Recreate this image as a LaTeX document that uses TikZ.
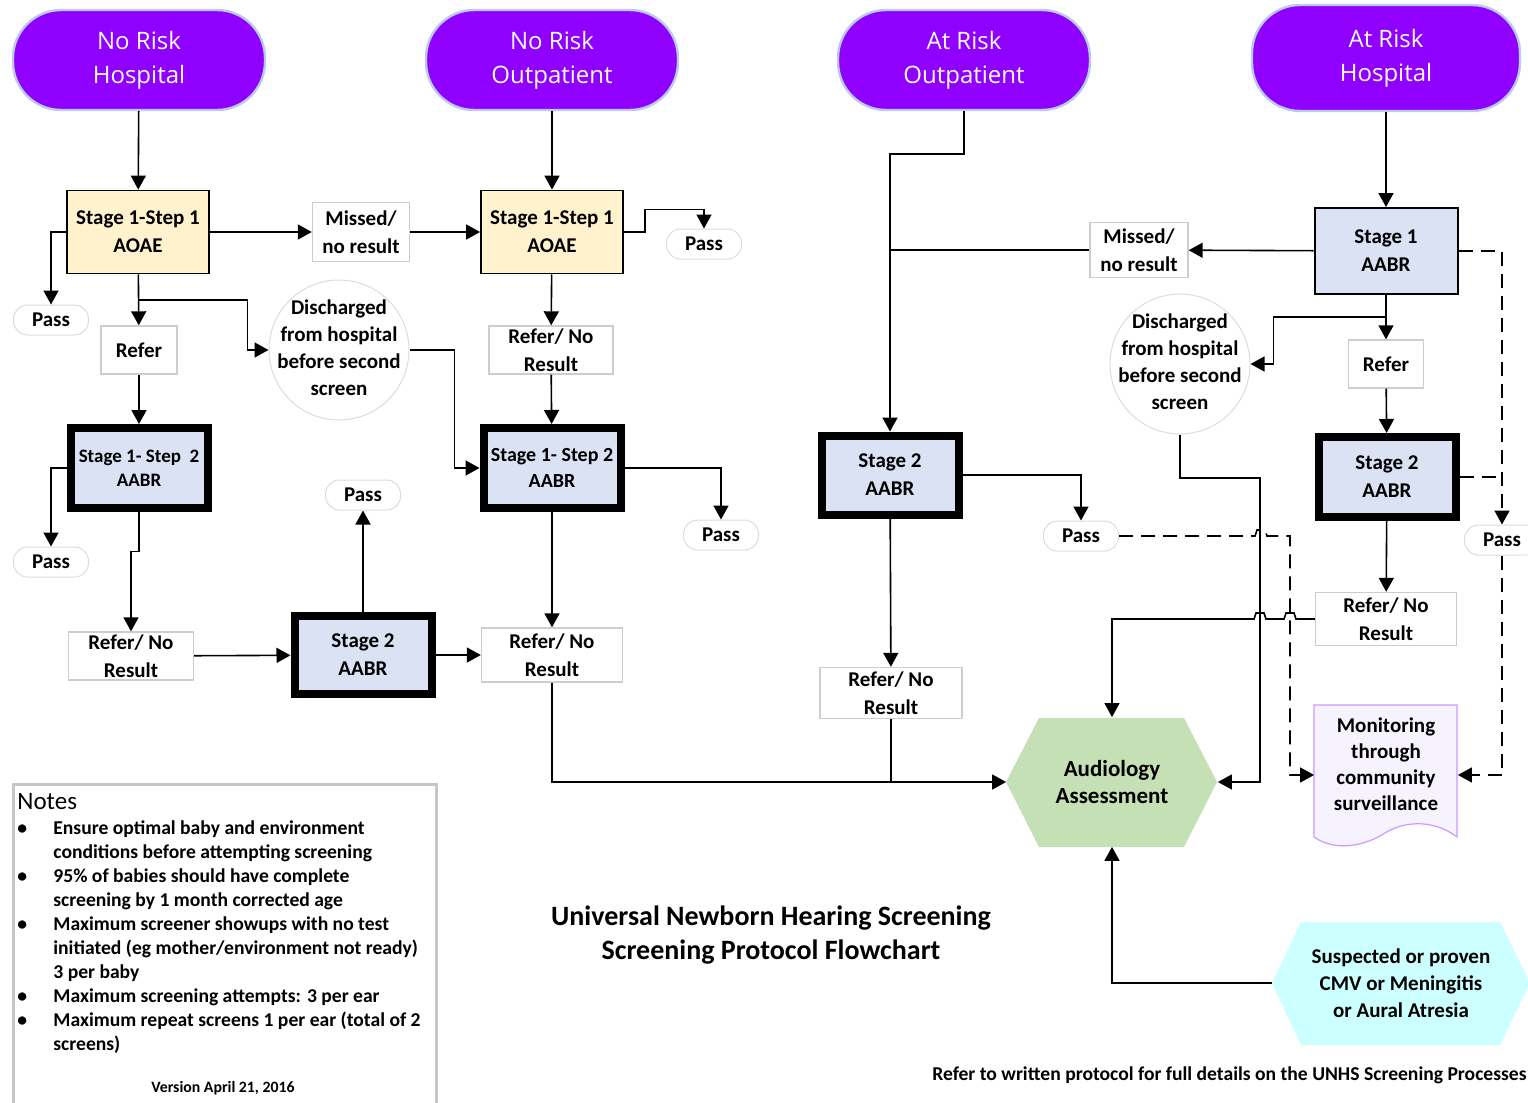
\documentclass[tikz,border=0pt]{standalone}
\usepackage{fontspec}
\setmainfont{Carlito}
\newfontfamily\termfont{Open Sans}
\usepackage{xcolor}
\usetikzlibrary{arrows.meta,calc}

\definecolor{termpurple}{RGB}{143,0,255}
\definecolor{termedge}{RGB}{185,205,235}
\definecolor{aoaefill}{RGB}{255,242,204}
\definecolor{aabrfill}{RGB}{218,226,243}
\definecolor{audfill}{RGB}{197,224,180}
\definecolor{cmvfill}{RGB}{204,255,255}
\definecolor{boxgray}{RGB}{205,205,205}
\definecolor{monline}{RGB}{204,153,255}
\definecolor{monfill}{RGB}{246,243,255}

% text that does not widen its circle
\newcommand\flattext[1]{\raisebox{-5pt}{\smash{\makebox[0pt]{\begin{tabular}{@{}c@{}}#1\end{tabular}}}}}

\begin{document}
\begin{tikzpicture}[x=0.5pt,y=-0.5pt,
  every node/.style={font=\bfseries\fontsize{10.5}{14}\selectfont, align=center, inner sep=0pt},
  term/.style={fill=termpurple, draw=termedge, line width=1.2pt, rounded corners=24pt,
    minimum width=126pt, minimum height=50pt, text=white,
    font=\termfont\fontsize{12}{17}\selectfont},
  aoae/.style={draw, fill=aoaefill, line width=0.9pt, minimum width=71pt, minimum height=41.5pt},
  stageone/.style={draw, fill=aabrfill, line width=1pt, minimum width=71.5pt, minimum height=43pt},
  stagetwo/.style={draw, fill=aabrfill, line width=4pt, minimum width=68.5pt, minimum height=40pt},
  result/.style={draw=boxgray, fill=white, line width=0.7pt},
  passpill/.style={draw=boxgray!70, fill=white, line width=0.5pt, rounded corners=7pt,
    minimum width=37.5pt, minimum height=15pt},
  disch/.style={circle, draw=boxgray!70, fill=white, line width=0.5pt, minimum size=70pt,
    font=\bfseries\fontsize{10.5}{13.5}\selectfont},
  arr/.style={line width=0.8pt, -{Triangle[length=7pt,width=7.5pt]}},
  link/.style={line width=0.8pt},
  darr/.style={arr, dash pattern=on 7pt off 4pt},
  dlink/.style={link, dash pattern=on 7pt off 4pt}]

\useasboundingbox (0,0) rectangle (1528,1103);

% start points
\node[term] (tNRH) at (139,60) {No Risk\\Hospital};
\node[term] (tNRO) at (552,60) {No Risk\\Outpatient};
\node[term] (tARO) at (964,60) {At Risk\\Outpatient};
\node[term, minimum width=134pt, minimum height=53pt] (tARH) at (1386,58) {At Risk\\Hospital};

% no risk hospital
\node[aoae] (s11a) at (138,232) {Stage 1-Step 1\\AOAE};
\node[result, minimum width=48.5pt, minimum height=29.5pt] (miss1) at (361,232) {Missed/\\no result};
\node[passpill] (pass1) at (51,320) {Pass};
\node[result, minimum width=38pt, minimum height=24pt] (ref1) at (139,350) {Refer};
\node[disch] (dis1) at (339,350) {\flattext{Discharged\\from hospital\\before second\\screen}};
\node[stagetwo, font=\bfseries\fontsize{9.5}{12}\selectfont] (s11b) at (139,468) {Stage 1- Step\ \ 2\\AABR};
\node[passpill] (pass2) at (51,562) {Pass};
\node[result, minimum width=62.5pt, minimum height=24pt] (rnr1) at (131,656) {Refer/ No\\Result};
\node[stagetwo, minimum height=39pt] (s2l) at (363,655) {Stage 2\\AABR};
\node[passpill] (pass3) at (363,495) {Pass};

% no risk outpatient
\node[aoae] (s12a) at (552,232) {Stage 1-Step 1\\AOAE};
\node[passpill] (pass4) at (704,244) {Pass};
\node[result, minimum width=62pt, minimum height=24pt] (rnr3) at (551,350) {Refer/ No\\Result};
\node[stagetwo, font=\bfseries\fontsize{10}{13}\selectfont] (s12b) at (552,468) {Stage 1- Step 2\\AABR};
\node[passpill] (pass5) at (721,535) {Pass};
\node[result, minimum width=70.5pt, minimum height=27pt] (rnr2) at (552,655) {Refer/ No\\Result};

% at risk outpatient
\node[stagetwo, minimum height=39.5pt] (s2m) at (890,475) {Stage 2\\AABR};
\node[passpill] (pass6) at (1081,536) {Pass};
\node[result, minimum width=71pt, minimum height=25.5pt] (rnr4) at (891,693) {Refer/ No\\Result};

% at risk hospital
\node[stageone] (s1r) at (1386,251) {Stage 1\\AABR};
\node[result, minimum width=49pt, minimum height=27.5pt] (miss2) at (1139,250) {Missed/\\no result};
\node[result, minimum width=37.5pt, minimum height=24pt] (ref2) at (1386,364) {Refer};
\node[disch] (dis2) at (1180,364) {\flattext{Discharged\\from hospital\\before second\\screen}};
\node[stagetwo] (s2r) at (1387,477) {Stage 2\\AABR};
\node[passpill] (pass7) at (1502,540) {Pass};
\node[result, minimum width=70.5pt, minimum height=26.5pt] (rnr5) at (1386,619) {Refer/ No\\Result};

% outcomes
\fill[audfill] (1006,782) -- (1039,718) -- (1184,718) -- (1217,782) -- (1184,847) -- (1039,847) -- cycle;
\node[minimum width=105.5pt, minimum height=64.5pt, font=\bfseries\fontsize{11.5}{13.5}\selectfont] (audio) at (1112,782) {Audiology\\Assessment};
\draw[monline, fill=monfill, line width=0.6pt] (1314,705) -- (1457,705) -- (1457,837)
  .. controls (1432,818) and (1402,822) .. (1385,833) .. controls (1365,846) and (1335,852) .. (1314,837) -- cycle;
\node[minimum width=71.5pt, minimum height=65pt, font=\bfseries\fontsize{10.5}{13}\selectfont] (mon) at (1386,764) {Monitoring\\through\\community\\surveillance};
\fill[cmvfill] (1272,983) -- (1301,922) -- (1500,922) -- (1530,983) -- (1500,1045) -- (1301,1045) -- cycle;
\node[minimum width=129pt, minimum height=61.5pt, font=\bfseries\fontsize{10.5}{13.5}\selectfont] (susp) at (1401,983) {Suspected or proven\\CMV or Meningitis\\or Aural Atresia};

% connectors, no risk hospital
\draw[arr] (tNRH) -- (s11a);
\draw[arr] (s11a.west) -| (pass1.north);
\draw[arr] (s11a) -- (miss1);
\draw[arr] (miss1) -- (s12a);
\draw[arr] (s11a) -- (ref1);
\coordinate (b1) at ($(s11a.south)!0.5!(ref1.north)$);
\draw[arr] (b1) -| ($(dis1.west)+(-21,0)$) -- (dis1.west);
\draw[arr] (ref1) -- (s11b);
\draw[arr] (s11b.west) -| (pass2.north);
\draw[arr] (s11b.south) |- ($(rnr1.north)+(0,-80)$) -- (rnr1.north);
\draw[arr] (rnr1) -- (s2l);
\draw[arr] (s2l) -- (pass3);
\draw[arr] (s2l) -- (rnr2);

% connectors, no risk outpatient
\draw[arr] (tNRO) -- (s12a);
\draw[arr] (s12a.east) -- ++(21,0) |- ($(pass4.north)+(0,-19)$) -- (pass4.north);
\draw[arr] (s12a) -- (rnr3);
\draw[arr] (rnr3) -- (s12b);
\draw[arr] (dis1.east) -| ($(s12b.west)+(-25,0)$) -- (s12b.west);
\draw[arr] (s12b.east) -| (pass5.north);
\draw[arr] (s12b) -- (rnr2);
\draw[arr] (rnr2.south) |- (audio.west);

% connectors, at risk outpatient
\draw[arr] (tARO.south) -- ++(0,43) -| (s2m.north);
\draw[link] (miss2.west) -- (miss2.west -| s2m.north);
\draw[arr] (s2m.east) -| (pass6.north);
\draw[arr] (s2m) -- (rnr4);
\draw[link] (rnr4.south) -- (rnr4.south |- audio.west);

% connectors, at risk hospital
\draw[arr] (tARH) -- (s1r);
\draw[arr] (s1r) -- (miss2);
\draw[arr] (s1r) -- (ref2);
\coordinate (b2) at ($(s1r.south)!0.5!(ref2.north)$);
\draw[arr] (b2) -| ($(dis2.east)+(23,0)$) -- (dis2.east);
\draw[arr] (ref2) -- (s2r);
\draw[arr] (s2r) -- (rnr5);
\draw[arr] (dis2.south) |- (1260,478) |- (audio.east);
\draw[arr] (rnr5.west) -- (1296,619) -- (1294,613) -- (1286,613) -- (1284,619) -- (1266,619)
  -- (1264,613) -- (1256,613) -- (1254,619) -| (audio.north);
\draw[darr] (pass6.east) -- (1255,536) -- (1257,530) -- (1265,530) -- (1267,536) -- (1290,536) |- ($(mon.west)+(0,11)$);
\draw[darr] (s1r.east) -| (pass7.north);
\draw[dlink] (s2r.east) -- (s2r.east -| pass7.north);
\draw[darr] (pass7.south) |- ($(mon.east)+(0,11)$);
\draw[arr] (susp.west) -| (audio.south);

% titles and notes
\node[font=\bfseries\fontsize{14}{17}\selectfont] (title) at (771,935) {Universal Newborn Hearing Screening\\Screening Protocol Flowchart};
\node[anchor=east, font=\bfseries\fontsize{9.8}{11}\selectfont] (footer) at (1527,1075) {Refer to written protocol\ for full details on the UNHS Screening Processes};
\node[draw=gray!45, line width=1.5pt, anchor=north west, minimum width=211.5pt, minimum height=170pt] (notes) at (12,783) {};
\node[anchor=west, font=\fontsize{12.5}{13}\selectfont] (notehead) at (17,802) {Notes};
\node[anchor=north west, align=left, font=\bfseries\fontsize{9.8}{12}\selectfont] (notelist) at (17,817) {%
  \begin{tabular}{@{}p{18pt}@{}l@{}}
  \textbullet & Ensure optimal baby and environment\\
   & conditions before attempting screening\\
  \textbullet & 95\% of babies should have complete\\
   & screening by 1 month corrected age\\
  \textbullet & Maximum screener showups with no test\\
   & initiated (eg mother/environment not ready)\\
   & 3 per baby\\
  \textbullet & Maximum screening attempts: 3 per ear\\
  \textbullet & Maximum repeat screens 1 per ear (total of 2\\
   & screens)
  \end{tabular}};
\node[font=\bfseries\fontsize{7.9}{9}\selectfont] (version) at (223,1088) {Version April 21, 2016};
\end{tikzpicture}
\end{document}
